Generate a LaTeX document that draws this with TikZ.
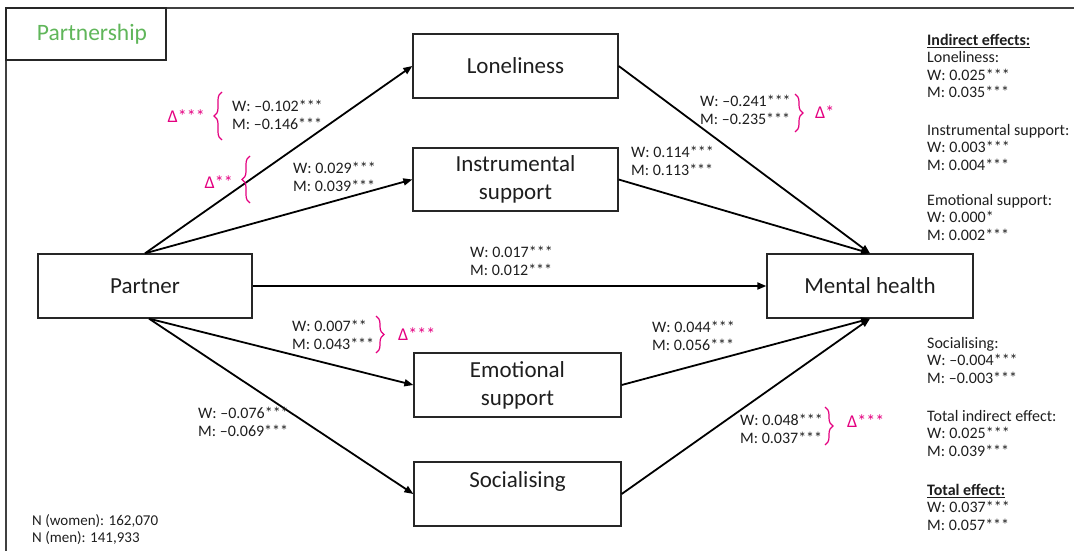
\documentclass[tikz,border=0pt]{standalone}
\usepackage{fontspec}
\setmainfont{Carlito}
\usetikzlibrary{arrows.meta,decorations.pathreplacing}
\definecolor{txt}{RGB}{30,30,30}
\definecolor{mag}{RGB}{228,0,128}
\definecolor{grn}{RGB}{96,182,90}
\begin{document}
\begin{tikzpicture}[x=1pt,y=-1pt,
 box/.style={draw=black!85, line width=1.3pt, font=\fontsize{23}{28}\selectfont, text=txt, align=center, inner sep=0pt},
 conn/.style={line width=1.8pt, -{Triangle[length=9pt,width=7pt]}},
 lbl/.style={font=\fontsize{16}{18}\selectfont, text=txt, align=left, anchor=west, inner sep=0pt},
 col/.style={font=\fontsize{16}{17.5}\selectfont, text=txt, align=left, anchor=north west, inner sep=0pt},
 delta/.style={font=\fontsize{18}{20}\selectfont, text=mag, inner sep=0pt},
 brc/.style={draw=mag, line width=1.2pt, decorate, decoration={brace, amplitude=8pt}},
]
\useasboundingbox (0,0) rectangle (1074,551);
% frame
\draw[line width=1.3pt, black!75] (6,551) -- (6,8) -- (1074,8);
\draw[line width=1.3pt, black!85] (6,8) rectangle (166,60);
\node[inner sep=0pt, font=\fontsize{23.5}{26}\selectfont, text=grn] (title) at (92,34) {Partnership};

% boxes
\node[box, minimum width=205pt, minimum height=64pt] (lon) at (515.5,66) {Loneliness};
\node[box, minimum width=205pt, minimum height=63pt] (ins) at (515.5,179.5) {Instrumental\\support};
\node[box, minimum width=207pt, minimum height=64pt] (emo) at (517.5,385) {Emotional\\support};
\node[box, minimum width=207pt, minimum height=64pt] (soc) at (517.5,494) {Socialising\\~};
\node[box, minimum width=214pt, minimum height=64pt] (par) at (145,286) {Partner};
\node[box, minimum width=206pt, minimum height=64pt] (mh) at (870,286) {Mental health};

% connectors
\draw[conn] (par.north) -- (lon.west);
\draw[conn] (par.north) -- (ins.west);
\draw[conn] (par.east) -- (mh.west);
\draw[conn] ([xshift=4pt]par.south) -- (emo.west);
\draw[conn] ([xshift=4pt]par.south) -- (soc.west);
\draw[conn] (lon.east) -- (mh.north);
\draw[conn] (ins.east) -- (mh.north);
\draw[conn] (emo.east) -- (mh.south);
\draw[conn] (soc.east) -- (mh.south);

% path labels
\node[lbl] (l1) at (232,115) {W: –0.102***\\M: –0.146***};
\node[lbl] (l2) at (293,177) {W: 0.029***\\M: 0.039***};
\node[lbl] (l3) at (700,110) {W: –0.241***\\M: –0.235***};
\node[lbl] (l4) at (631,160.5) {W: 0.114***\\M: 0.113***};
\node[lbl] (l5) at (470,261) {W: 0.017***\\M: 0.012***};
\node[lbl] (l6) at (292,334.5) {W: 0.007**\\M: 0.043***};
\node[lbl] (l7) at (198,422) {W: –0.076***\\M: –0.069***};
\node[lbl] (l8) at (652,336) {W: 0.044***\\M: 0.056***};
\node[lbl] (l9) at (740,428.5) {W: 0.048***\\M: 0.037***};

% braces and deltas
\draw[brc] (222,140) -- (222,92);
\node[delta, anchor=east] (d1) at (205,116) {Δ***};
\draw[brc] (250,203) -- (250,156);
\node[delta, anchor=east] (d2) at (233,182) {Δ**};
\draw[brc] (795,94) -- (795,132);
\node[delta, anchor=west] (d3) at (815,112) {Δ*};
\draw[brc] (376,316) -- (376,353);
\node[delta, anchor=west] (d4) at (398,334) {Δ***};
\draw[brc] (825,407) -- (825,445);
\node[delta, anchor=west] (d5) at (847,421) {Δ***};

% sample sizes
\node[lbl, font=\fontsize{15}{17.5}\selectfont] (n) at (32,529.5) {N (women): 162,070\\N (men): 141,933};

% right column
\node[col] (c1) at (927,34) {\underline{\textbf{Indirect effects:}}\\Loneliness:\\W: 0.025***\\M: 0.035***};
\node[col] (c2) at (927,124) {Instrumental support:\\W: 0.003***\\M: 0.004***};
\node[col] (c3) at (927,194) {Emotional support:\\W: 0.000*\\M: 0.002***};
\node[col] (c4) at (927,337) {Socialising:\\W: –0.004***\\M: –0.003***};
\node[col] (c5) at (927,410) {Total indirect effect:\\W: 0.025***\\M: 0.039***};
\node[col] (c6) at (927,484) {\underline{\textbf{Total effect:}}\\W: 0.037***\\M: 0.057***};
\end{tikzpicture}
\end{document}
